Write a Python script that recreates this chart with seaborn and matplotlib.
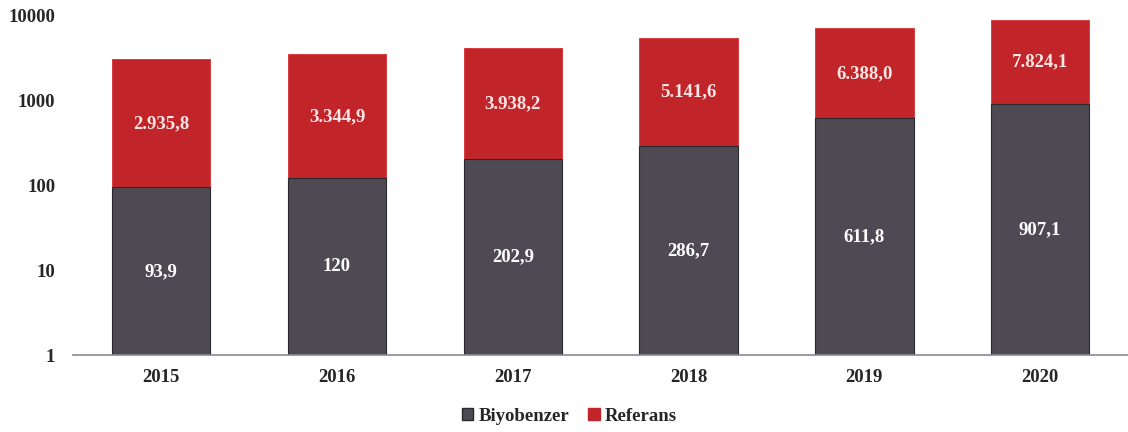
import matplotlib
matplotlib.use("Agg")
import matplotlib.pyplot as plt
import numpy as np
import pandas as pd
import seaborn as sns
from matplotlib.patches import Patch

years = ["2015", "2016", "2017", "2018", "2019", "2020"]
biyobenzer = [93.9, 120.0, 202.9, 286.7, 611.8, 907.1]
referans = [2935.8, 3344.9, 3938.2, 5141.6, 6388.0, 7824.1]
biyo_labels = ["93,9", "120", "202,9", "286,7", "611,8", "907,1"]
ref_labels = ["2.935,8", "3.344,9", "3.938,2", "5.141,6", "6.388,0", "7.824,1"]

GRAY = "#4d4a53"
RED = "#c1252a"

df = pd.DataFrame({"year": years, "biyo": biyobenzer, "ref": referans})
df["total"] = df["biyo"] + df["ref"]

sns.set_style("white")
plt.rcParams["font.family"] = ["Liberation Serif", "DejaVu Serif"]
plt.rcParams["font.weight"] = "bold"

fig = plt.figure(figsize=(11.28, 4.32), dpi=100)
ax = fig.add_axes([0.065, 0.178, 0.935, 0.787])
ax.set_yscale("log")

sns.barplot(data=df, x="year", y="total", color=RED, width=0.56, saturation=1,
            edgecolor="#d8302f", linewidth=0.6, ax=ax)
sns.barplot(data=df, x="year", y="biyo", color=GRAY, width=0.56, saturation=1,
            edgecolor="#2a282e", linewidth=0.8, ax=ax)

ax.set_ylim(1, 10000)
ax.set_yticks([1, 10, 100, 1000, 10000])
ax.set_yticklabels(["1", "10", "100", "1000", "10000"])
ax.minorticks_off()
ax.tick_params(axis="x", length=0, labelsize=13.5, pad=10)
ax.tick_params(axis="y", length=0, labelsize=13.5, pad=13)
for lab in ax.get_xticklabels() + ax.get_yticklabels():
    lab.set_fontweight("bold")
ax.set_xlabel("")
ax.set_ylabel("")

for s in ["top", "right", "left"]:
    ax.spines[s].set_visible(False)
ax.spines["bottom"].set_color("#8a8a96")
ax.spines["bottom"].set_linewidth(1.2)

for i in range(len(years)):
    b = df["biyo"][i]
    t = df["total"][i]
    ax.text(i, np.sqrt(b), biyo_labels[i], ha="center", va="center",
            color="white", fontsize=13.5, fontweight="bold")
    ax.text(i, np.sqrt(b * t), ref_labels[i], ha="center", va="center",
            color="#ffe6e6", fontsize=13.5, fontweight="bold")

handles = [Patch(facecolor=GRAY, edgecolor="#2a282e", label="Biyobenzer"),
           Patch(facecolor=RED, edgecolor=RED, label="Referans")]
fig.legend(handles=handles, loc="center", bbox_to_anchor=(0.505, 0.037), ncol=2,
           frameon=False, handlelength=0.6, handleheight=0.6, handletextpad=0.3,
           columnspacing=1.0, prop={"size": 13.5, "weight": "bold"})

fig.savefig("out.png", dpi=100)
